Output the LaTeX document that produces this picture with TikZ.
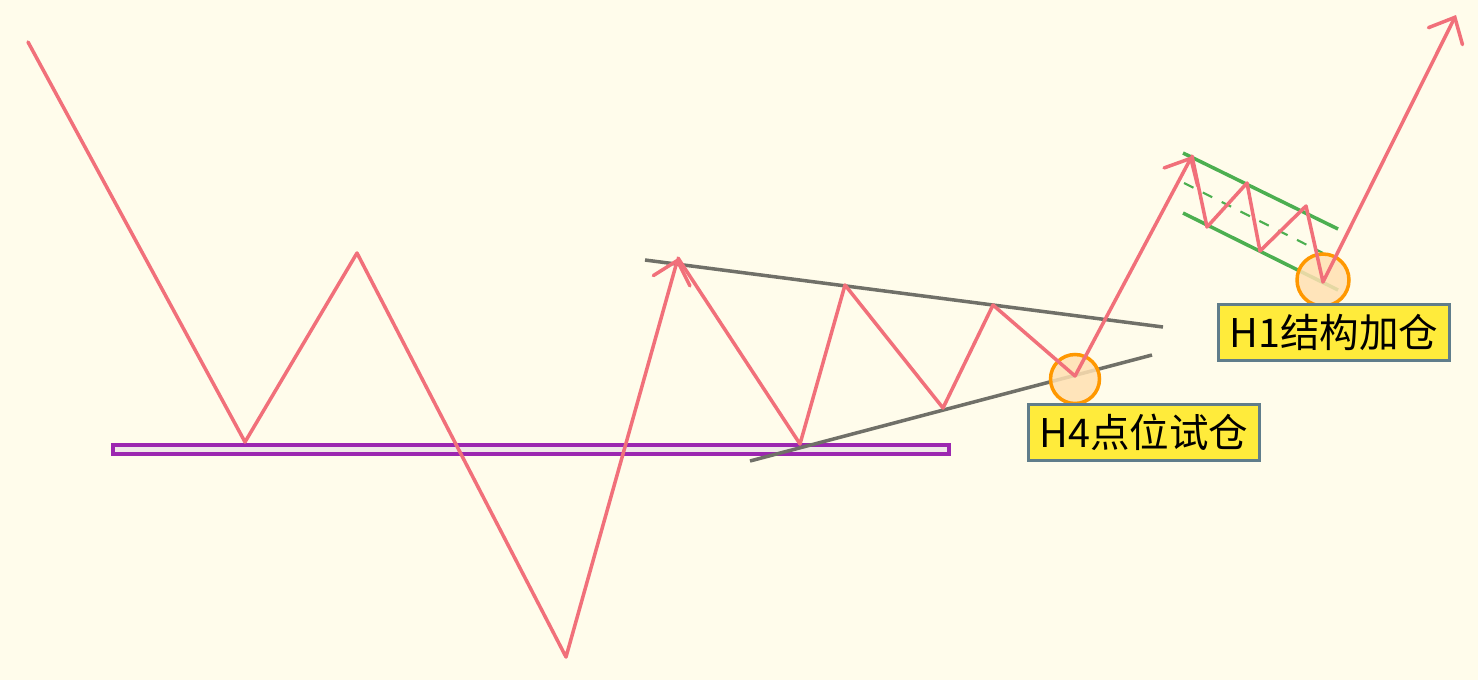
\documentclass[tikz,border=0pt]{standalone}
\usepackage{fontspec}
\newfontfamily\cjk{Noto Sans CJK SC}
\usetikzlibrary{arrows.meta}
\definecolor{paper}{RGB}{255,252,235}
\definecolor{trend}{RGB}{241,112,122}
\definecolor{wedge}{RGB}{112,112,104}
\definecolor{flag}{RGB}{76,175,80}
\definecolor{zone}{RGB}{156,39,176}
\definecolor{zonefill}{RGB}{240,232,232}
\definecolor{spot}{RGB}{255,152,0}
\definecolor{spotfill}{RGB}{255,224,178}
\definecolor{tag}{RGB}{255,235,59}
\definecolor{tagline}{RGB}{96,125,139}
\tikzset{
  price/.style={trend, line width=2pt, line join=round, line cap=round},
  pricearrow/.style={price, -{Straight Barb[length=0.42cm,width=0.76cm,line cap=round]}},
  tagbox/.style={fill=tag, draw=tagline, line width=1.7pt, inner sep=0pt,
    minimum width=4.64cm, minimum height=1.12cm, font=\cjk\fontsize{22.5}{26}\selectfont}
}
\begin{document}
\begin{tikzpicture}[x=0.02cm,y=-0.02cm]
\useasboundingbox[fill=paper] (0,0) rectangle (1478,680);
% support zone
\draw[zone, fill=zonefill, line width=2.2pt] (113,445) rectangle (949,454);
% triangle
\draw[wedge, line width=2pt] (645,260) -- (1163,327);
\draw[wedge, line width=2pt] (750,461) -- (1152,355);
% flag channel
\draw[flag, line width=2pt] (1183,153) -- (1338,229);
\draw[flag, line width=2pt] (1183,213) -- (1338,290);
\draw[flag, line width=1.2pt, dash pattern=on 6pt off 6pt] (1184,183) -- (1323,253);
% entries
\node[circle, draw=spot, fill=spotfill, fill opacity=0.85, line width=2pt,
  minimum size=0.98cm, inner sep=0pt] (h4spot) at (1075,379) {};
\node[circle, draw=spot, fill=spotfill, fill opacity=0.85, line width=2pt,
  minimum size=1.04cm, inner sep=0pt] (h1spot) at (1323,280) {};
% price path
\draw[pricearrow] (28,42) -- (245,442) -- (357,253) -- (566,657) -- (678,258);
\draw[pricearrow] (678,258) -- (800,444) -- (845,285) -- (943,408) -- (993,305)
  -- (1075,376) -- (1192,156);
\draw[pricearrow] (1192,156) -- (1207,227) -- (1247,183) -- (1260,251) -- (1306,206)
  -- (1323,282) -- (1456,15);
% labels
\node[tagbox] (h4tag) at (1144,432.5) {H4点位试仓};
\node[tagbox] (h1tag) at (1334,332.5) {H1结构加仓};
\end{tikzpicture}
\end{document}
